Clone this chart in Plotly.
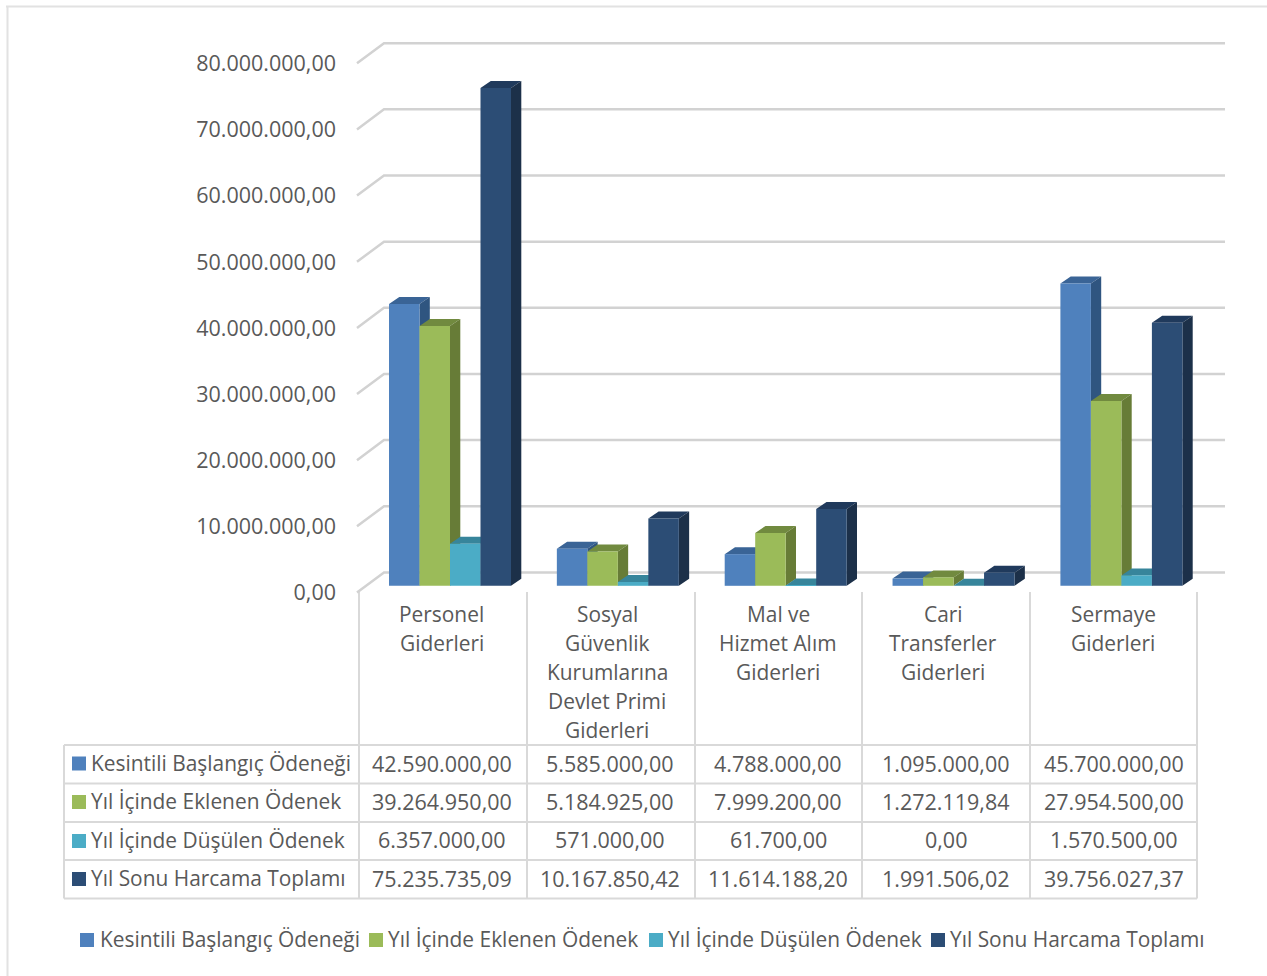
import plotly.graph_objects as go

W, H = 1267, 976

categories = ["Personel<br>Giderleri",
              "Sosyal<br>Güvenlik<br>Kurumlarına<br>Devlet Primi<br>Giderleri",
              "Mal ve<br>Hizmet Alım<br>Giderleri",
              "Cari<br>Transferler<br>Giderleri",
              "Sermaye<br>Giderleri"]
series_names = ["Kesintili Başlangıç Ödeneği", "Yıl İçinde Eklenen Ödenek",
                "Yıl İçinde Düşülen Ödenek", "Yıl Sonu Harcama Toplamı"]
kesintili = [42590000.00, 5585000.00, 4788000.00, 1095000.00, 45700000.00]
eklenen = [39264950.00, 5184925.00, 7999200.00, 1272119.84, 27954500.00]
dusulen = [6357000.00, 571000.00, 61700.00, 0.00, 1570500.00]
harcama = [75235735.09, 10167850.42, 11614188.20, 1991506.02, 39756027.37]
series_values = [kesintili, eklenen, dusulen, harcama]
tick_values = [0, 10000000, 20000000, 30000000, 40000000, 50000000, 60000000, 70000000, 80000000]

front_colors = ["#4f81bd", "#9bbb59", "#4bacc6", "#2c4d75"]
top_colors = ["#3a6496", "#718a3f", "#37859b", "#203a5c"]
side_colors = ["#2f5580", "#677c37", "#2f7186", "#1c3049"]
TEXT = "#595959"
LINE = "#d9d9d9"
FONT = "Open Sans"
FS = 20.9
FS_NUM = 21.5

# pixel geometry of the page -> axis scales
X0_PX, X_UNIT = 450.0, 167.85      # px of category 0 centre, px per category
Y0_PX, Y_UNIT = 585.8, 66.15 / 1e7  # px of value 0, px per value unit
x_range = [-X0_PX / X_UNIT, (W - X0_PX) / X_UNIT]
y_range = [-(H - Y0_PX) / Y_UNIT, Y0_PX / Y_UNIT]
dx_x = lambda px: px / X_UNIT
dx_y = lambda px: px / Y_UNIT
px_x = lambda px: (px - X0_PX) / X_UNIT


def tr(v):
    s = f"{v:,.2f}"
    return s.replace(",", "X").replace(".", ",").replace("X", ".")


fig = go.Figure()

# wall gridlines (front corner -> back corner -> right end)
gx, gy = [], []
for v in tick_values:
    gx += [px_x(357), px_x(384), px_x(1225), None]
    gy += [v - dx_y(592.5 - Y0_PX), v + dx_y(Y0_PX - 572.4), v + dx_y(Y0_PX - 572.4), None]
fig.add_trace(go.Scatter(x=gx, y=gy, mode="lines", line=dict(color="#d2d2d2", width=2.5),
                         hoverinfo="skip", showlegend=False))
# invisible carrier so the value axis draws
fig.add_trace(go.Scatter(x=[0, 0], y=[0, tick_values[-1]], mode="markers", opacity=0,
                         hoverinfo="skip", showlegend=False))

# 3D faces, painted left to right
bw = 30.5 / X_UNIT
DX, DY = dx_x(10.3), dx_y(7.0)
for s, vals in enumerate(series_values):
    tx, ty, sx, sy = [], [], [], []
    for c, v in enumerate(vals):
        xl = c + (s - 2) * bw
        xr = xl + bw
        tx += [xl, xl + DX, xr + DX, xr, xl, None]
        ty += [v, v + DY, v + DY, v, v, None]
        sx += [xr, xr + DX, xr + DX, xr, xr, None]
        sy += [0, DY, v + DY, v, 0, None]
    fig.add_trace(go.Scatter(x=tx, y=ty, mode="lines", fill="toself", fillcolor=top_colors[s],
                             line=dict(width=0), hoverinfo="skip", showlegend=False))
    fig.add_trace(go.Scatter(x=sx, y=sy, mode="lines", fill="toself", fillcolor=side_colors[s],
                             line=dict(width=0), hoverinfo="skip", showlegend=False))

# front faces on an overlay subplot so they sit above all side faces
for s, vals in enumerate(series_values):
    fig.add_trace(go.Bar(x=list(range(5)), y=vals, name=series_names[s], xaxis="x2", yaxis="y2",
                         marker=dict(color=front_colors[s], line=dict(width=0)), showlegend=False))

shapes = []


def hline(y, x0, x1, color=LINE, w=2):
    shapes.append(dict(type="line", xref="paper", yref="paper", x0=x0 / W, x1=x1 / W,
                       y0=1 - y / H, y1=1 - y / H, line=dict(color=color, width=w), layer="below"))


def vline(x, y0, y1, color=LINE, w=2):
    shapes.append(dict(type="line", xref="paper", yref="paper", x0=x / W, x1=x / W,
                       y0=1 - y0 / H, y1=1 - y1 / H, line=dict(color=color, width=w), layer="below"))


def swatch(x, y, color, size=14):
    shapes.append(dict(type="rect", xref="paper", yref="paper", x0=x / W, x1=(x + size) / W,
                       y0=1 - (y - size / 2) / H, y1=1 - (y + size / 2) / H,
                       fillcolor=color, line=dict(width=0)))


annotations = []


def label(x, y, text, anchor="center", size=FS):
    annotations.append(dict(xref="paper", yref="paper", x=x / W, y=1 - y / H, text=text,
                            showarrow=False, xanchor=anchor, yanchor="middle",
                            font=dict(family=FONT, size=size, color=TEXT),
                            borderpad=0, borderwidth=0))


# page frame
hline(6.5, 6, W, "#e2e2e2", 2)
vline(7.5, 6, H, "#e2e2e2", 2)

# data table
col_edges = [359, 527, 695, 862, 1030, 1197]
row_edges = [745, 783.5, 822, 860, 898.5]
row_text_y = [763, 801, 839.5, 878]
row_swatch_y = [763.5, 802, 841, 879]
cell_cx = [442, 610, 778, 946, 1114]
cat_cx = [441.5, 607, 778, 943, 1113]
for y in row_edges:
    hline(y, 64, 1197)
vline(64, 745, 898.5)
for x in col_edges:
    vline(x, 592, 898.5)
for c, cat in enumerate(categories):
    for i, part in enumerate(cat.split("<br>")):
        label(cat_cx[c], 614 + 29 * i, part)
for s, vals in enumerate(series_values):
    swatch(72, row_swatch_y[s], front_colors[s])
    label(91, row_text_y[s], series_names[s], "left")
    for c, v in enumerate(vals):
        label(cell_cx[c], row_text_y[s], tr(v), size=FS_NUM)

# legend row
legend_swatch_x = [80, 369, 649, 931]
legend_text_x = [100, 388, 668, 950]
for s in range(4):
    swatch(legend_swatch_x[s], 940, front_colors[s])
    label(legend_text_x[s], 938.5, series_names[s], "left")

common = dict(showgrid=False, zeroline=False, fixedrange=True)
fig.update_layout(
    width=W, height=H, margin=dict(l=0, r=0, t=0, b=0, pad=0, autoexpand=False),
    paper_bgcolor="white", plot_bgcolor="white",
    barmode="group", bargap=1 - 4 * bw, bargroupgap=0,
    showlegend=False, hovermode=False,
    shapes=shapes, annotations=annotations,
    xaxis=dict(range=x_range, domain=[0, 1], visible=False, **common),
    yaxis=dict(range=y_range, domain=[0, 1], anchor="free", position=336 / W, side="left",
               tickmode="array", tickvals=tick_values, ticktext=[tr(v) for v in tick_values],
               showline=False, ticks="", ticklabelshift=7, ticklabelstandoff=0,
               tickfont=dict(family=FONT, size=FS_NUM, color=TEXT), **common),
    xaxis2=dict(range=x_range, domain=[0, 1], overlaying="x", visible=False, **common),
    yaxis2=dict(range=y_range, domain=[0, 1], overlaying="y", visible=False, **common),
)

fig.write_html("out.html", config=dict(displayModeBar=False),
               post_script="document.body.style.margin='0';document.body.style.overflow='hidden';")
